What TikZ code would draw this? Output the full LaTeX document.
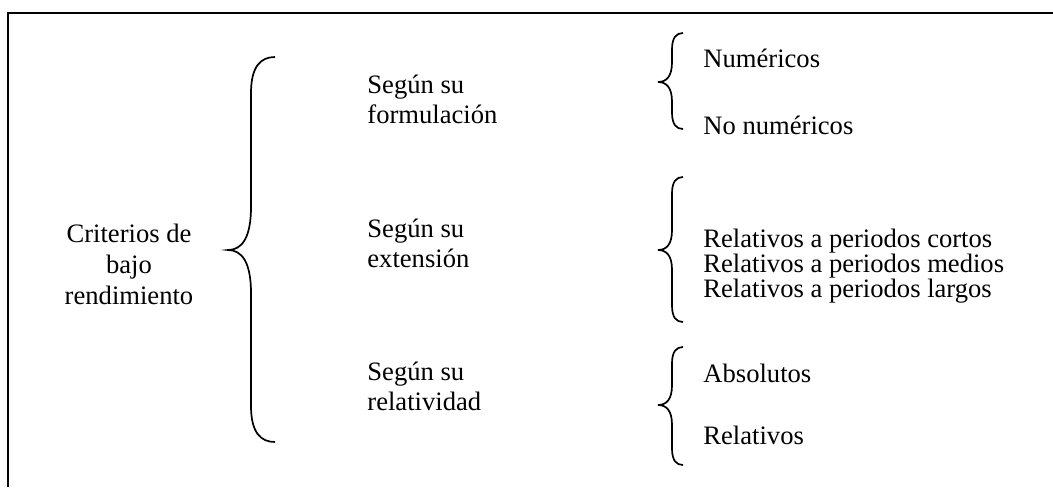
\documentclass[tikz,border=0pt]{standalone}
\usepackage{fontspec}
\setmainfont{Liberation Serif}
\usetikzlibrary{positioning}
\tikzstyle{texto}=[inner sep=0pt, anchor=base west, font=\fontsize{13.3}{15}\selectfont]
\tikzstyle{centro}=[texto, anchor=base]
\tikzstyle{llave}=[draw, line width=0.85pt]
\tikzstyle{marco}=[draw, line width=1pt]
% llave: x vertical, tip, curve, top, middle, bottom
\newcommand{\corchete}[6]{%
  \path[llave] (#1+#3,#4) .. controls (#1+0.4*#3,#4) and (#1,#4+0.4*#3) .. (#1,#4+1.5*#3)
    -- (#1,#5-1.8*#3) .. controls (#1,#5-0.5*#3) and (#1-0.4*#2,#5) .. (#1-#2,#5)
    .. controls (#1-0.4*#2,#5) and (#1,#5+0.5*#3) .. (#1,#5+1.8*#3)
    -- (#1,#6-1.5*#3) .. controls (#1,#6-0.4*#3) and (#1+0.4*#3,#6) .. (#1+#3,#6);}
\begin{document}
\begin{tikzpicture}[x=0.5pt,y=-0.5pt]
  \useasboundingbox (0,0) rectangle (1053,487);
  \path[marco] (8,487) -- (8,13) -- (1053,13);

  \path (129,242) node (c1) [centro] {Criterios de};
  \path (c1.base)+(0,31) node (c2) [centro] {bajo};
  \path (c2.base)+(0,31) node (c3) [centro] {rendimiento};

  \path (367,93) node (f1) [texto] {Según su};
  \path (f1.base west)+(0,30) node (f2) [texto] {formulación};
  \path (367,237) node (e1) [texto] {Según su};
  \path (e1.base west)+(0,30) node (e2) [texto] {extensión};
  \path (367,380) node (r1) [texto] {Según su};
  \path (r1.base west)+(0,30) node (r2) [texto] {relatividad};

  \path (703,67) node (n1) [texto] {Numéricos};
  \path (n1.base west)+(0,67) node (n2) [texto] {No numéricos};
  \path (703,247) node (p1) [texto] {Relativos a periodos cortos};
  \path (p1.base west)+(0,25) node (p2) [texto] {Relativos a periodos medios};
  \path (p2.base west)+(0,25) node (p3) [texto] {Relativos a periodos largos};
  \path (703,382) node (a1) [texto] {Absolutos};
  \path (a1.base west)+(0,62) node (a2) [texto] {Relativos};

  \corchete{251}{23}{24}{57}{250}{442}
  \corchete{672}{14}{11}{33}{82}{129}
  \corchete{672}{14}{11}{177}{250}{322}
  \corchete{672}{14}{11}{347}{405}{465}
\end{tikzpicture}
\end{document}
